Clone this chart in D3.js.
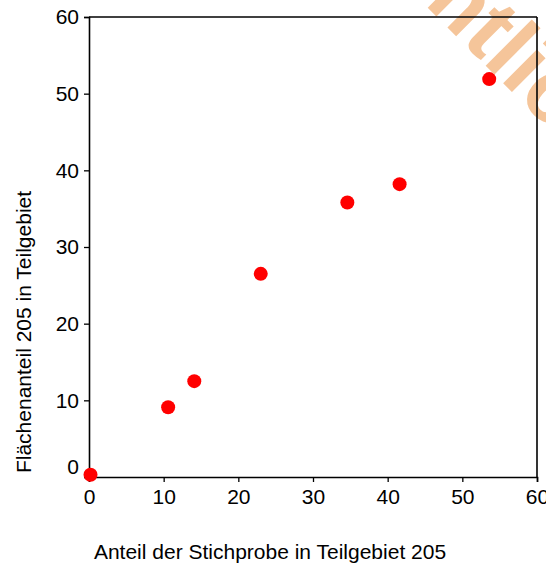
<!DOCTYPE html>
<html>
<head>
<meta charset="utf-8">
<script src="https://cdn.jsdelivr.net/npm/d3@7"></script>
<style>
  body { margin: 0; background: #fff; }
  svg { display: block; font-family: "Liberation Sans", Arial, sans-serif; }
</style>
</head>
<body>
<svg width="546" height="567"></svg>
<script>
// Stichprobe vs Flächenanteil, Teilgebiet 205
const stichprobe = [0.2, 10.6, 14.1, 23.0, 34.6, 41.6, 53.6];
const flaeche    = [0.3, 9.1, 12.5, 26.5, 35.8, 38.2, 51.9];
const xTicks = [0, 10, 20, 30, 40, 50, 60];
const yTicks = [0, 10, 20, 30, 40, 50, 60];

const svg = d3.select('svg'),
    width = +svg.attr('width'),
    height = +svg.attr('height');

const margin = {top: 17, right: 9, bottom: 90, left: 89};

const x = d3.scaleLinear()
    .domain([0, 60])
    .range([margin.left, width - margin.right]);

const y = d3.scaleLinear()
    .domain([0, 60])
    .range([height - margin.bottom, margin.top]);

// watermark, mostly cut off at the top right
svg.append('text')
    .attr('transform', 'translate(368,-52) rotate(45)')
    .style('font-size', '90px')
    .style('font-weight', 'bold')
    .attr('fill', '#f5c59a')
    .text('amtlich');

const xAxis = svg.append('g')
    .attr('transform', `translate(0,${y(0)})`)
    .call(d3.axisBottom(x).tickValues(xTicks).tickSize(5).tickPadding(7));

const yAxis = svg.append('g')
    .attr('transform', `translate(${x(0)},0)`)
    .call(d3.axisLeft(y).tickValues(yTicks).tickSize(5).tickPadding(5));

[xAxis, yAxis].forEach(a => {
    a.select('.domain').attr('stroke', '#000').attr('stroke-width', 1.6);
    a.selectAll('.tick line').attr('stroke', '#000').attr('stroke-width', 1.3);
    a.selectAll('.tick text')
        .style('font-size', '21px')
        .style('font-family', '"Liberation Sans", Arial, sans-serif')
        .attr('fill', '#000');
});

// the zero on the y axis sits a bit higher
yAxis.selectAll('.tick text')
    .filter(d => d === 0)
    .attr('dy', '-0.18em');

// frame top and right
svg.append('line')
    .attr('x1', x(0)).attr('x2', x(60))
    .attr('y1', y(60)).attr('y2', y(60))
    .attr('stroke', '#000').attr('stroke-width', 1.6);
svg.append('line')
    .attr('x1', x(60)).attr('x2', x(60))
    .attr('y1', y(60)).attr('y2', y(0))
    .attr('stroke', '#000').attr('stroke-width', 1.6);

svg.append('g')
    .selectAll('circle')
    .data(stichprobe)
    .enter()
    .append('circle')
    .attr('cx', d => x(d))
    .attr('cy', (d, i) => y(flaeche[i]))
    .attr('r', 7)
    .attr('fill', '#ff0000');

svg.append('text')
    .attr('x', 270)
    .attr('y', 559)
    .attr('text-anchor', 'middle')
    .style('font-size', '21px')
    .text('Anteil der Stichprobe in Teilgebiet 205');

svg.append('text')
    .attr('transform', 'translate(31,332) rotate(-90)')
    .attr('text-anchor', 'middle')
    .style('font-size', '21px')
    .text('Flächenanteil 205 in Teilgebiet');
</script>
</body>
</html>
